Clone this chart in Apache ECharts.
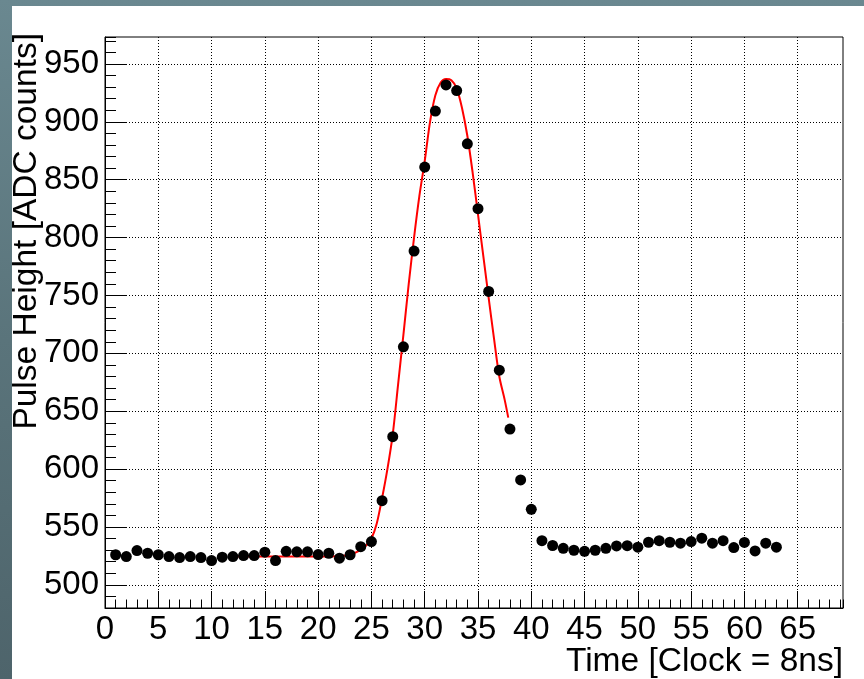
<!DOCTYPE html>
<html>
<head>
<meta charset="utf-8">
<script src="https://cdn.jsdelivr.net/npm/echarts@6/dist/echarts.min.js"></script>
<style>
html,body{margin:0;padding:0;width:864px;height:679px;overflow:hidden;background:linear-gradient(180deg,#6a8890 0%,#5a747b 50%,#4e646b 100%);}
#c{position:absolute;left:12px;top:6px;width:852px;height:673px;background:#fff;}
</style>
</head>
<body>
<div id="c"></div>
<script>
// ---- data ----
const timeBins = [1,2,3,4,5,6,7,8,9,10,11,12,13,14,15,16,17,18,19,20,21,22,23,24,25,26,27,28,29,30,31,32,33,34,35,36,37,38,39,40,41,42,43,44,45,46,47,48,49,50,51,52,53,54,55,56,57,58,59,60,61,62,63];
const pulseHeights = [526,524.4,529.6,527.3,526,524.4,523.6,524.4,523.6,521,523.9,524.4,525.3,525.3,528.2,521,529,528.5,528.5,526.2,527.3,523,526,533,537.4,572.7,628,705.6,788.4,860.9,909.3,931.9,927,881,825,753.5,685.5,634.6,590.6,565.3,538.2,534,531.6,529.9,529,529.9,531.6,533.6,533.8,532.5,536.8,538.2,536.8,536,537.4,540.3,536,538.2,532.2,536.6,529.3,536,532.5];
// fit curve
const fitTime =   [12,16,20,21,22,23,23.5,24,24.5,25,25.5,26,26.5,27,27.5,28,28.5,29,29.5,30,30.5,31,31.5,32,32.5,33,33.5,34,34.5,35,35.5,36,36.5,37,37.5,37.84];
const fitHeight = [524.4,524.4,524.4,524.5,524.9,526,527.8,530.5,534,540,553,575,600,630,673,716,760,800,836,866,900,923,934,937,936,929,912,888,856,820,784,748,713,680,660,644.5];
const xMajorTicks = [0,5,10,15,20,25,30,35,40,45,50,55,60,65];
const yMajorTicks = [500,550,600,650,700,750,800,850,900,950];
const xTitle = 'Time [Clock = 8ns]';
const yTitle = 'Pulse Height [ADC counts]';

const FONT = '"Liberation Sans", Arial, Helvetica, sans-serif';
const chart = echarts.init(document.getElementById('c'), null, {renderer: 'canvas'});

const X_MIN = 0, X_MAX = 69.25, Y_MIN = 480, Y_MAX = 973.3;
const dotted = {type: [1, 2], color: '#000', width: 1};

chart.setOption({
  animation: false,
  backgroundColor: '#fff',
  grid: {left: 93, top: 31, right: 21, bottom: 71, show: true, borderColor: '#000', borderWidth: 1, backgroundColor: '#fff'},
  xAxis: [
    {type: 'value', min: X_MIN, max: X_MAX, interval: 1, position: 'bottom',
     axisLine: {show: true, onZero: false, lineStyle: {color: '#000', width: 1}},
     axisTick: {show: true, inside: true, length: 8.5, lineStyle: {color: '#000', width: 1}},
     axisLabel: {show: false}, splitLine: {show: false}},
    {type: 'value', min: X_MIN, max: X_MAX, position: 'bottom',
     axisLine: {show: false, onZero: false},
     axisTick: {show: true, inside: true, length: 17, customValues: xMajorTicks, lineStyle: {color: '#000', width: 1}},
     axisLabel: {show: true, customValues: xMajorTicks, fontSize: 33, color: '#000', fontFamily: FONT, margin: 5},
     splitLine: {show: true, lineStyle: dotted}}
  ],
  yAxis: [
    {type: 'value', min: Y_MIN, max: Y_MAX, interval: 10, position: 'left',
     axisLine: {show: true, onZero: false, lineStyle: {color: '#000', width: 1}},
     axisTick: {show: true, inside: true, length: 11, lineStyle: {color: '#000', width: 1}},
     axisLabel: {show: false}, splitLine: {show: false}},
    {type: 'value', min: Y_MIN, max: Y_MAX, position: 'left',
     axisLine: {show: false, onZero: false},
     axisTick: {show: true, inside: true, length: 22, customValues: yMajorTicks, lineStyle: {color: '#000', width: 1}},
     axisLabel: {show: true, customValues: yMajorTicks, fontSize: 33, color: '#000', fontFamily: FONT, margin: 6},
     splitLine: {show: true, lineStyle: dotted}}
  ],
  series: [
    {type: 'line', xAxisIndex: 0, yAxisIndex: 0, data: fitTime.map((t, i) => [t, fitHeight[i]]),
     showSymbol: false, smooth: 0.3, lineStyle: {color: '#ff0000', width: 2}, z: 3, silent: true},
    {type: 'scatter', xAxisIndex: 0, yAxisIndex: 0, data: timeBins.map((t, i) => [t, pulseHeights[i]]),
     symbol: 'circle', symbolSize: 11, itemStyle: {color: '#000', opacity: 1}, z: 4, silent: true}
  ],
  graphic: [
    {type: 'text', x: 831, y: 656, style: {text: xTitle, fontSize: 33.5, fontFamily: FONT, fill: '#000', align: 'right', verticalAlign: 'middle'}},
    {type: 'text', x: 15, y: 27, rotation: Math.PI / 2, style: {text: yTitle, fontSize: 33.5, fontFamily: FONT, fill: '#000', align: 'right', verticalAlign: 'middle'}}
  ]
});
</script>
</body>
</html>
